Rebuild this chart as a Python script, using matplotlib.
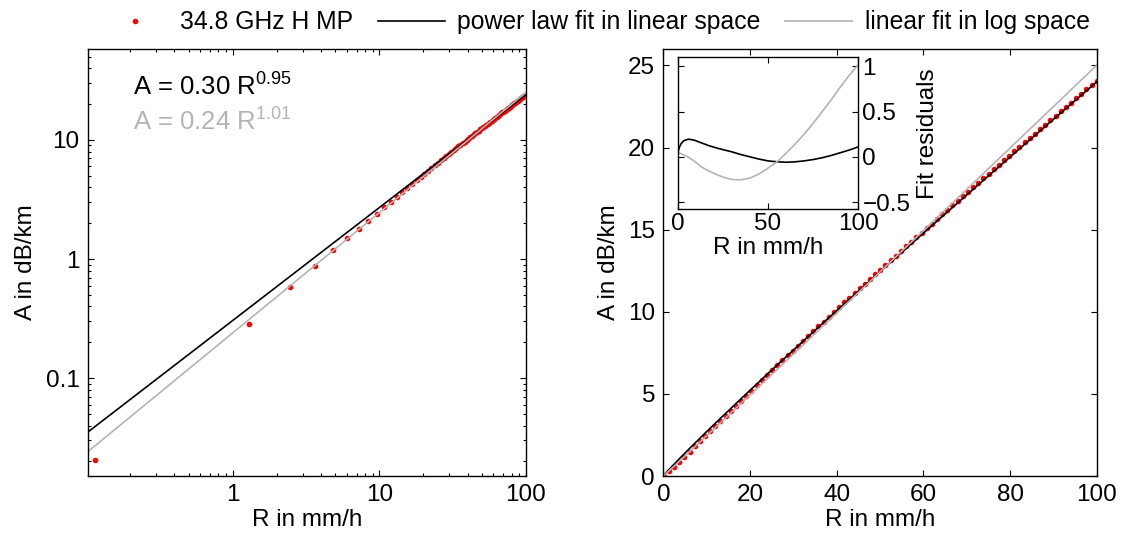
import matplotlib

matplotlib.use("Agg")

import matplotlib.pyplot as plt
import numpy as np
from matplotlib.lines import Line2D
from matplotlib.ticker import LogLocator, NullFormatter

plt.rcParams["font.family"] = ["Liberation Sans", "DejaVu Sans"]
plt.rcParams["mathtext.fontset"] = "custom"
plt.rcParams["mathtext.rm"] = "Liberation Sans"
plt.rcParams["mathtext.it"] = "Liberation Sans:italic"

# rain rate (mm/h) and specific attenuation (dB/km)
rain_rate = [
    0.115, 1.289, 2.479, 3.668, 4.857, 6.046, 7.236, 8.425, 9.614, 10.804,
    11.993, 13.182, 14.371, 15.561, 16.750, 17.939, 19.129, 20.318, 21.507, 22.696,
    23.886, 25.075, 26.264, 27.454, 28.643, 29.832, 31.021, 32.211, 33.400, 34.589,
    35.779, 36.968, 38.157, 39.346, 40.536, 41.725, 42.914, 44.104, 45.293, 46.482,
    47.671, 48.861, 50.050, 51.239, 52.429, 53.618, 54.807, 55.996, 57.186, 58.375,
    59.564, 60.754, 61.943, 63.132, 64.321, 65.511, 66.700, 67.889, 69.079, 70.268,
    71.457, 72.646, 73.836, 75.025, 76.214, 77.404, 78.593, 79.782, 80.971, 82.161,
    83.350, 84.539, 85.729, 86.918, 88.107, 89.296, 90.486, 91.675, 92.864, 94.054,
    95.243, 96.432, 97.621, 98.811, 100.000,
]
attenuation = [
    0.0205, 0.286, 0.578, 0.880, 1.183, 1.490, 1.798, 2.105, 2.413, 2.723,
    3.032, 3.342, 3.653, 3.965, 4.275, 4.585, 4.895, 5.206, 5.514, 5.822,
    6.129, 6.434, 6.739, 7.042, 7.341, 7.640, 7.938, 8.233, 8.530, 8.824,
    9.117, 9.408, 9.700, 9.990, 10.280, 10.569, 10.857, 11.145, 11.432, 11.718,
    12.004, 12.289, 12.573, 12.856, 13.139, 13.421, 13.702, 13.982, 14.262, 14.541,
    14.820, 15.097, 15.374, 15.650, 15.932, 16.207, 16.482, 16.755, 17.035, 17.307,
    17.578, 17.856, 18.127, 18.404, 18.672, 18.949, 19.224, 19.491, 19.765, 20.039,
    20.312, 20.577, 20.849, 21.121, 21.392, 21.663, 21.934, 22.204, 22.473, 22.742,
    23.011, 23.279, 23.546, 23.814, 24.080,
]

# fit coefficients
pl_a, pl_b = 0.305, 0.948     # power law fit in linear space
lg_a, lg_b = 0.24, 1.009      # linear fit in log space
pl_text = "A = 0.30 R$^{0.95}$"
lg_text = "A = 0.24 R$^{1.01}$"

# fit residuals
res_rate = [0, 0.5, 1, 2, 3.5, 6, 9, 13, 17, 22, 26, 30, 35, 40, 45, 50,
            55, 60, 65, 70, 75, 80, 85, 90, 95, 100]
res_power = [0.03, 0.08, 0.11, 0.15, 0.18, 0.195, 0.185, 0.155, 0.125, 0.095,
             0.075, 0.055, 0.025, 0.0, -0.025, -0.045, -0.055, -0.06, -0.055,
             -0.045, -0.03, -0.01, 0.015, 0.045, 0.075, 0.11]
res_log = [0.04, 0.04, 0.04, 0.035, 0.02, -0.005, -0.045, -0.11, -0.155, -0.2,
           -0.23, -0.25, -0.255, -0.235, -0.19, -0.125, -0.055, 0.04, 0.14,
           0.25, 0.37, 0.5, 0.63, 0.77, 0.9, 1.02]

GRAY = "#b4b4b4"
RED = "#ff0000"
FS = 17.5


def style_axes(ax):
    ax.tick_params(which="both", direction="in", top=True, right=True,
                   labelsize=FS, width=0.8, pad=6)
    ax.tick_params(which="major", length=4)
    ax.tick_params(which="minor", length=2.5)
    for spine in ax.spines.values():
        spine.set_linewidth(1.0)


fig = plt.figure(figsize=(11.32, 5.40), dpi=100)

# left: log-log
ax1 = fig.add_axes([0.0777, 0.1185, 0.3869, 0.7907])
r_fit = np.geomspace(0.1, 100, 200)
ax1.plot(rain_rate, attenuation, ".", color=RED, markersize=6)
ax1.plot(r_fit, pl_a * r_fit ** pl_b, color="black", lw=1.2)
ax1.plot(r_fit, lg_a * r_fit ** lg_b, color=GRAY, lw=1.2)
ax1.set_xscale("log")
ax1.set_yscale("log")
ax1.set_xlim(0.103, 100)
ax1.set_ylim(0.0151, 58)
ax1.set_xticks([1, 10, 100])
ax1.set_xticklabels(["1", "10", "100"])
ax1.set_yticks([0.1, 1, 10])
ax1.set_yticklabels(["0.1", "1", "10"])
ax1.xaxis.set_minor_locator(LogLocator(subs=np.arange(2, 10)))
ax1.yaxis.set_minor_locator(LogLocator(subs=np.arange(2, 10)))
ax1.xaxis.set_minor_formatter(NullFormatter())
ax1.yaxis.set_minor_formatter(NullFormatter())
style_axes(ax1)
ax1.set_xlabel("R in mm/h", fontsize=FS, labelpad=2)
ax1.set_ylabel("A in dB/km", fontsize=FS, labelpad=6)
ax1.text(0.102, 0.892, pl_text, transform=ax1.transAxes, fontsize=18.5,
         color="black", va="baseline")
ax1.text(0.102, 0.809, lg_text, transform=ax1.transAxes, fontsize=18.5,
         color=GRAY, va="baseline")

# right: linear
ax2 = fig.add_axes([0.5860, 0.1185, 0.3829, 0.7907])
r_lin = np.linspace(0, 100, 300)
ax2.plot(rain_rate, attenuation, ".", color=RED, markersize=6)
ax2.plot(r_lin, pl_a * r_lin ** pl_b, color="black", lw=1.2)
ax2.plot(r_lin, lg_a * r_lin ** lg_b, color=GRAY, lw=1.2)
ax2.set_xlim(0, 100)
ax2.set_ylim(0, 26)
ax2.set_xticks([0, 20, 40, 60, 80, 100])
ax2.set_yticks([0, 5, 10, 15, 20, 25])
style_axes(ax2)
ax2.set_xlabel("R in mm/h", fontsize=FS, labelpad=2)
ax2.set_ylabel("A in dB/km", fontsize=FS, labelpad=6)

# inset: residuals
ax3 = fig.add_axes([0.5987, 0.6124, 0.1595, 0.2815])
ax3.plot(res_rate, res_power, color="black", lw=1.2)
ax3.plot(res_rate, res_log, color=GRAY, lw=1.2)
ax3.set_xlim(0, 100)
ax3.set_ylim(-0.58, 1.1)
ax3.set_xticks([0, 50, 100])
ax3.set_yticks([-0.5, 0, 0.5, 1])
ax3.set_yticklabels(["\u22120.5", "0", "0.5", "1"])
style_axes(ax3)
ax3.tick_params(axis="y", labelleft=False, labelright=True, pad=3)
ax3.tick_params(axis="x", pad=3)
ax3.yaxis.set_label_position("right")
ax3.set_ylabel("Fit residuals", fontsize=FS, labelpad=5)
ax3.set_xlabel("R in mm/h", fontsize=FS, labelpad=1)

handles = [
    Line2D([], [], ls="none", marker=".", color=RED, markersize=6),
    Line2D([], [], color="black", lw=1.2),
    Line2D([], [], color=GRAY, lw=1.2),
]
labels = ["34.8 GHz H MP", "power law fit in linear space", "linear fit in log space"]
fig.legend(handles, labels, loc="upper center", bbox_to_anchor=(0.526, 1.022),
           ncol=3, frameon=False, fontsize=17.8, handlelength=2.7,
           columnspacing=1.0, handletextpad=0.5)

fig.savefig("out.png", dpi=100)
